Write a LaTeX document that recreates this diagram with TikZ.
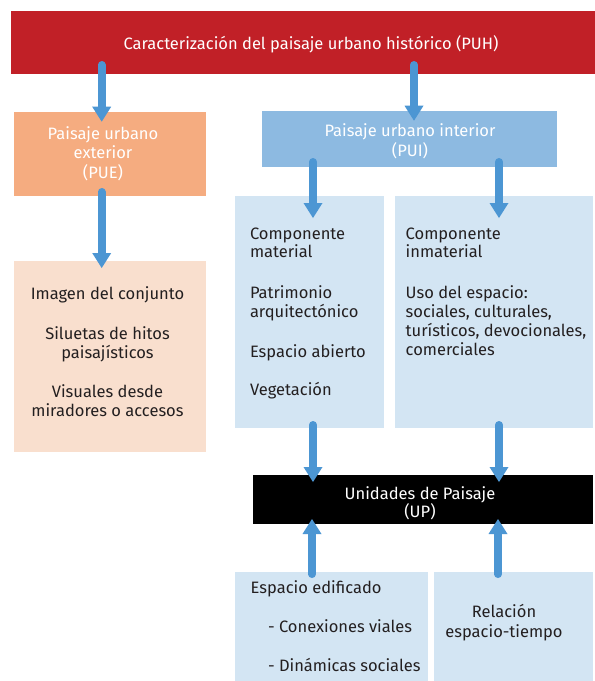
\documentclass[tikz,border=0pt]{standalone}
\usepackage{fontspec}
\setmainfont{Fira Sans}
\usetikzlibrary{arrows.meta}
\definecolor{puhred}{RGB}{193,32,39}
\definecolor{pueorange}{RGB}{245,172,128}
\definecolor{peach}{RGB}{249,223,206}
\definecolor{puiblue}{RGB}{141,186,225}
\definecolor{lightblue}{RGB}{211,229,243}
\definecolor{arrowblue}{RGB}{76,150,211}
\definecolor{textdark}{RGB}{35,31,32}
\begin{document}
\begin{tikzpicture}[x=1pt,y=-1pt,
  box/.style={draw=none,inner sep=0pt,outer sep=0pt,rectangle},
  txt/.style={font=\fontsize{16.5}{19}\selectfont,inner sep=0pt,outer sep=0pt,anchor=base,text=textdark},
  ltxt/.style={txt,anchor=base west},
  wtxt/.style={txt,text=white},
  arr/.style={draw=arrowblue,line width=7.6pt,line cap=round,-{Triangle[width=19pt,length=15pt,line width=0pt]}}]
\useasboundingbox (0,0) rectangle (595,681);
\fill[white] (0,0) rectangle (595,681);

% boxes
\node[box,fill=puhred,minimum width=584.4pt,minimum height=63pt] (puh) at (302.8,42.5) {};
\node[box,fill=pueorange,minimum width=192pt,minimum height=84pt] (pue) at (110,154) {};
\node[box,fill=puiblue,minimum width=295pt,minimum height=56pt] (pui) at (409.5,139) {};
\node[box,fill=peach,minimum width=192pt,minimum height=191pt] (pea) at (110,356.5) {};
\node[box,fill=lightblue,minimum width=149pt,minimum height=232pt] (mat) at (309.5,312) {};
\node[box,fill=lightblue,minimum width=198pt,minimum height=232pt] (inm) at (494,312) {};
\node[box,fill=black,minimum width=340pt,minimum height=49pt] (up) at (423,499.5) {};
\node[box,fill=lightblue,minimum width=193pt,minimum height=109pt] (edif) at (331.5,626.5) {};
\node[box,fill=lightblue,minimum width=159pt,minimum height=109pt] (rel) at (513.5,626.5) {};

% arrow columns
\coordinate (cL) at (101.7,0);
\coordinate (cT) at (414,0);
\coordinate (cM) at (313,0);
\coordinate (cI) at (499,0);
\coordinate (cB) at (312,0);
\coordinate (cR) at (498,0);

% arrows
\draw[arr] ([yshift=9.2pt]puh.south -| cL) -- ([yshift=-9.7pt]pue.north -| cL);
\draw[arr] ([yshift=9.2pt]puh.south -| cT) -- ([yshift=-9.7pt]pui.north -| cT);
\draw[arr] ([yshift=4.2pt]pue.south -| cL) -- ([yshift=-7pt]pea.north -| cL);
\draw[arr] ([yshift=5.2pt]pui.south -| cM) -- ([yshift=-22pt]mat.north -| cM);
\draw[arr] ([yshift=5.2pt]pui.south -| cI) -- ([yshift=-22pt]inm.north -| cI);
\draw[arr] ([yshift=3.2pt]mat.south -| cM) -- ([yshift=-7pt]up.north -| cM);
\draw[arr] ([yshift=3.2pt]inm.south -| cI) -- ([yshift=-7pt]up.north -| cI);
\draw[arr] ([yshift=-2.2pt]edif.north -| cB) -- ([yshift=5pt]up.south -| cB);
\draw[arr] ([yshift=-2.2pt]rel.north -| cR) -- ([yshift=5pt]up.south -| cR);

% texts
\node[wtxt] (t1) at (311,49) {Caracterización del paisaje urbano histórico (PUH)};

\node[wtxt] (t2) at (103,139) {Paisaje urbano};
\node[wtxt] (t3) at (103,158.5) {exterior};
\node[wtxt] (t4) at (103,178) {(PUE)};

\node[wtxt] (t5) at (410,136.8) {Paisaje urbano interior};
\node[wtxt] (t6) at (410,156.5) {(PUI)};

\node[txt] (t7) at (107.5,299) {Imagen del conjunto};
\node[txt] (t8) at (107.5,339) {Siluetas de hitos};
\node[txt] (t9) at (107.5,358) {paisajísticos};
\node[txt] (t10) at (107.5,397.7) {Visuales desde};
\node[txt] (t11) at (107.5,416.7) {miradores o accesos};

\node[ltxt] (t12) at (250,239.5) {Componente};
\node[ltxt] (t13) at (250,257.7) {material};
\node[ltxt] (t14) at (250,298.3) {Patrimonio};
\node[ltxt] (t15) at (250,317.3) {arquitectónico};
\node[ltxt] (t16) at (250,357.3) {Espacio abierto};
\node[ltxt] (t17) at (250,395.7) {Vegetación};

\node[ltxt] (t18) at (405.7,239.5) {Componente};
\node[ltxt] (t19) at (405.7,257.7) {inmaterial};
\node[ltxt] (t20) at (405.7,298.3) {Uso del espacio:};
\node[ltxt] (t21) at (405.7,317.3) {sociales, culturales,};
\node[ltxt] (t22) at (405.7,336.5) {turísticos, devocionales,};
\node[ltxt] (t23) at (405.7,355.7) {comerciales};

\node[wtxt] (t24) at (420,499.3) {Unidades de Paisaje};
\node[wtxt] (t25) at (420,517.7) {(UP)};

\node[ltxt] (t26) at (250.7,593.3) {Espacio edificado};
\node[ltxt] (t27) at (268,632.7) {- Conexiones viales};
\node[ltxt] (t28) at (268,671.7) {- Dinámicas sociales};

\node[txt] (t29) at (504,617.3) {Relación};
\node[txt] (t30) at (504,637.7) {espacio-tiempo};
\end{tikzpicture}
\end{document}
